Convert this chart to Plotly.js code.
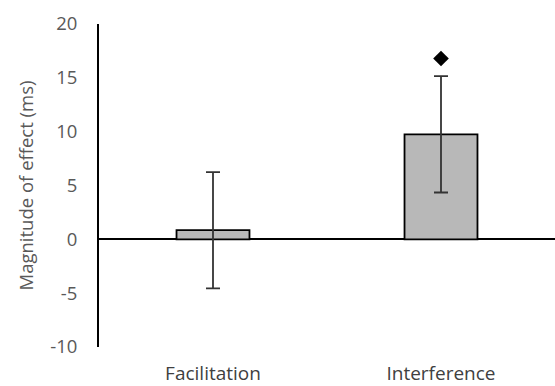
<!DOCTYPE html>
<html><head><meta charset="utf-8">
<script src="https://cdn.plot.ly/plotly-3.0.1.min.js"></script>
<style>html,body{margin:0;padding:0;background:#fff}#c{width:555px;height:386px}</style>
</head><body><div id="c"></div>
<script>
const categories = ["Facilitation", "Interference"];
const means = [0.85, 9.75];
const errors = [5.4, 5.4];
const markerCategories = ["Interference"];
const markerValues = [16.8];
const yTickVals = [-10, -5, 0, 5, 10, 15, 20];
const yTickText = ["-10", "-5", "0", "5", "10", "15", "20"];

const traces = [
  {type: "bar", x: categories, y: means,
   marker: {color: "#b8b8b8", line: {color: "#000", width: 1.8}},
   error_y: {type: "data", array: errors, visible: true, color: "#333", thickness: 1.8, width: 7},
   width: 0.32, hoverinfo: "none"},
  {type: "scatter", mode: "markers", x: markerCategories, y: markerValues,
   marker: {symbol: "diamond", size: 12, color: "#000"}, hoverinfo: "none"}
];

const layout = {
  width: 555, height: 386,
  margin: {l: 99, r: 0, t: 24, b: 39},
  paper_bgcolor: "#fff", plot_bgcolor: "#fff",
  showlegend: false,
  font: {family: "Open Sans, sans-serif", color: "#595959"},
  xaxis: {type: "category", showline: false, showgrid: false, zeroline: false, ticks: "",
          tickfont: {size: 19, color: "#404040"}, ticklabelstandoff: 13},
  yaxis: {range: [-10, 20], tickvals: yTickVals, ticktext: yTickText, showgrid: false, showline: true,
          linecolor: "#000", linewidth: 2, zeroline: true, zerolinecolor: "#000", zerolinewidth: 2,
          ticks: "", tickfont: {size: 18.5, color: "#595959"}, ticklabelstandoff: 16,
          title: {text: "Magnitude of effect (ms)", font: {size: 18.5, color: "#595959"}, standoff: 12}}
};
Plotly.newPlot("c", traces, layout, {staticPlot: true});
</script></body></html>
